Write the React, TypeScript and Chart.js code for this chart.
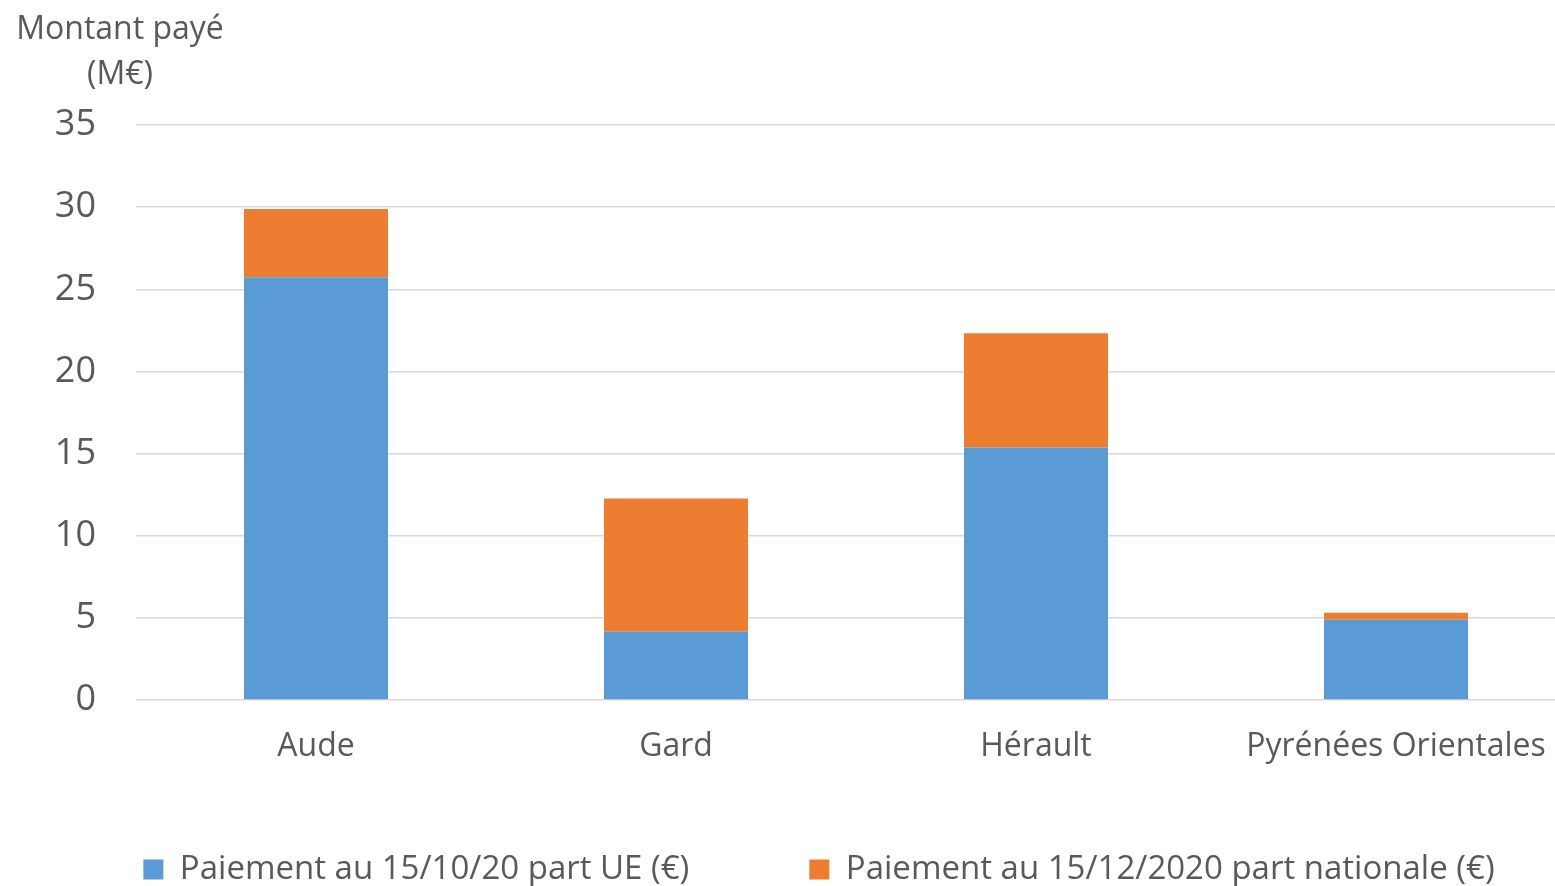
import React, { useEffect, useRef } from "react";
import { Chart, registerables } from "chart.js";

Chart.register(...registerables);

const categories = ["Aude", "Gard", "Hérault", "Pyrénées Orientales"];
const partUE = [25.73, 4.15, 15.37, 4.88];
const partNationale = [4.15, 8.11, 6.95, 0.43];
const seriesLabels = [
  "Paiement au 15/10/20 part UE (€)",
  "Paiement au 15/12/2020 part nationale (€)",
];
const titleLines = ["Montant payé", "(M€)"];

const FONT = "'Open Sans', sans-serif";
const TEXT = "#595959";
const W = 1638;
const H = 886;

const titlePlugin = {
  id: "cornerTitle",
  afterDraw(chart: any) {
    const ctx = chart.ctx;
    ctx.save();
    ctx.fillStyle = TEXT;
    ctx.font = `32px ${FONT}`;
    ctx.textAlign = "center";
    ctx.textBaseline = "middle";
    ctx.fillText(titleLines[0], 120, 30);
    ctx.fillText(titleLines[1], 120, 75);
    ctx.restore();
  },
};

export default function App() {
  const ref = useRef<HTMLCanvasElement | null>(null);
  useEffect(() => {
    document.body.style.margin = "0";
    document.body.style.overflow = "hidden";
    const chart = new Chart(ref.current as HTMLCanvasElement, {
      type: "bar",
      data: {
        labels: categories,
        datasets: [
          {
            label: seriesLabels[0],
            data: partUE,
            backgroundColor: "#5B9BD5",
            barPercentage: 0.4,
            categoryPercentage: 1,
          },
          {
            label: seriesLabels[1],
            data: partNationale,
            backgroundColor: "#ED7D31",
            barPercentage: 0.4,
            categoryPercentage: 1,
          },
        ],
      },
      options: {
        animation: false,
        responsive: false,
        maintainAspectRatio: false,
        layout: { padding: { left: 0, right: 0, top: 125, bottom: -10 } },
        plugins: {
          tooltip: { enabled: false },
          title: { display: false },
          legend: {
            position: "bottom",
            align: "center",
            labels: {
              boxWidth: 20,
              boxHeight: 20,
              padding: 120,
              color: TEXT,
              font: { size: 33, family: FONT },
            },
          },
        },
        scales: {
          x: {
            stacked: true,
            grid: { display: false },
            border: { display: false },
            ticks: {
              color: TEXT,
              font: { size: 32, family: FONT },
              padding: -66,
              mirror: true,
              maxRotation: 0,
              autoSkip: false,
            },
            afterFit: (s: any) => {
              s.height = 33;
            },
          },
          y: {
            stacked: true,
            min: 0,
            max: 35,
            ticks: { stepSize: 5, color: TEXT, font: { size: 36, family: FONT }, padding: 40 },
            grid: { color: "#d9d9d9", lineWidth: 1.5, drawTicks: false },
            border: { display: false },
            afterFit: (s: any) => {
              s.width = 136;
            },
          },
          yRight: {
            type: "linear",
            position: "right",
            display: true,
            grid: { display: false, drawTicks: false },
            border: { display: false },
            ticks: { display: false },
            afterFit: (s: any) => {
              s.width = 62;
            },
          },
        },
      },
      plugins: [titlePlugin],
    });
    return () => chart.destroy();
  }, []);
  return (
    <div style={{ position: "absolute", left: 0, top: 0, width: W, height: H }}>
      <canvas ref={ref} width={W} height={H} style={{ width: W, height: H }} />
    </div>
  );
}
